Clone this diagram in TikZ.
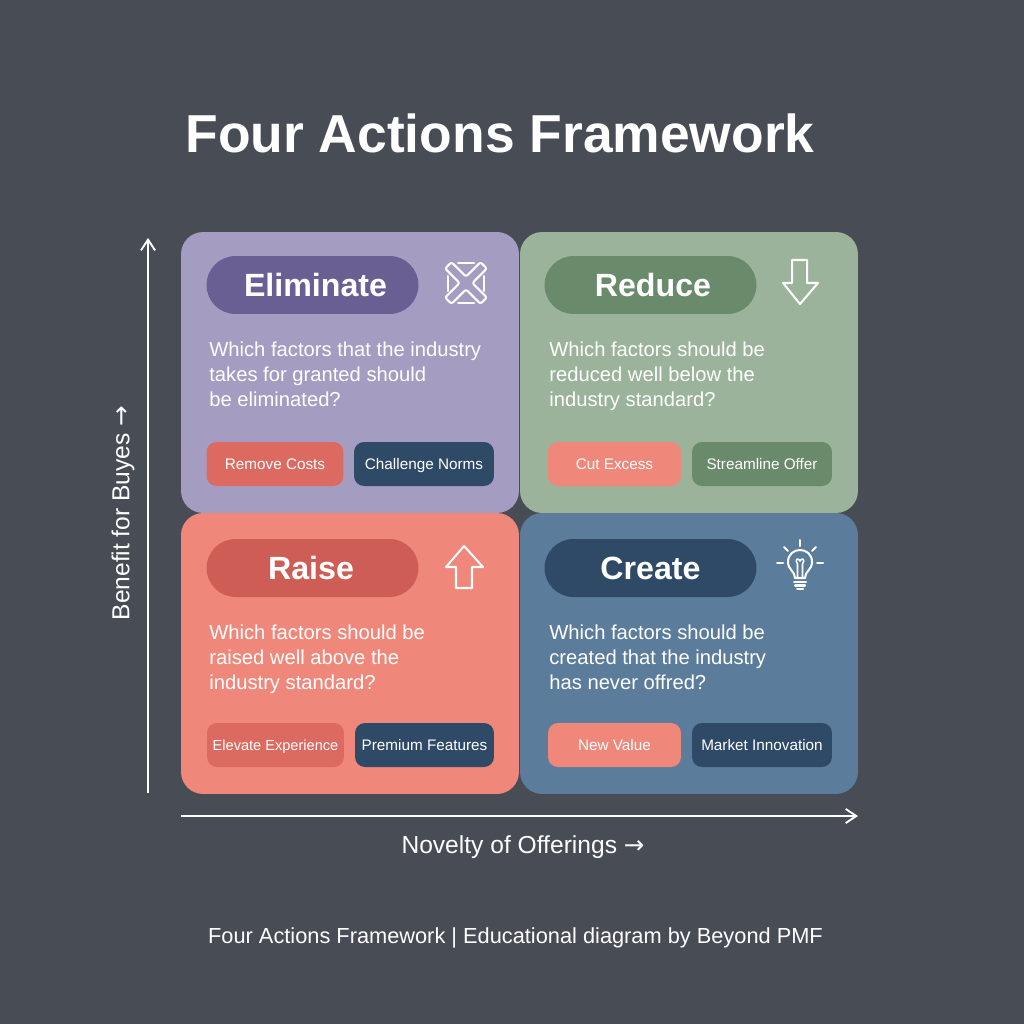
\documentclass[tikz,border=0pt]{standalone}
\usepackage{fontspec}
\setmainfont{Liberation Sans}
\newfontfamily\arrowfont{DejaVu Sans}
\usetikzlibrary{arrows.meta}
\definecolor{bgcol}{HTML}{474C55}
\definecolor{lavcol}{HTML}{A49DC1}
\definecolor{grncol}{HTML}{9BB39B}
\definecolor{salcol}{HTML}{EF887B}
\definecolor{blucol}{HTML}{5C7C9C}
\definecolor{purdark}{HTML}{6A5F93}
\definecolor{grndark}{HTML}{6A8A6C}
\definecolor{reddark}{HTML}{CE5E55}
\definecolor{navy}{HTML}{2F4A66}
\definecolor{redtag}{HTML}{DD6A60}
\tikzset{
    panel/.style={fill=#1, rounded corners=0.44cm, minimum width=6.76cm, minimum height=5.62cm, inner sep=0pt},
    pill/.style={fill=#1, rounded corners=0.58cm, minimum width=4.24cm, minimum height=1.16cm, inner sep=0pt, text=white, font=\fontsize{18.3}{20}\selectfont\bfseries},
    tag/.style={fill=#1, rounded corners=0.2cm, minimum width=2.74cm, minimum height=0.88cm, inner sep=0pt, text=white, text height=7.2pt, text depth=1.1pt, font=\fontsize{8.7}{10}\selectfont},
    question/.style={anchor=north west, inner sep=0pt, align=left, text=white, font=\fontsize{11.5}{14.2}\selectfont},
    caption/.style={text=white, inner sep=0pt, font=\fontsize{14}{16}\selectfont},
    icon/.style={draw=white, line width=1.15pt, line join=round, line cap=round},
    axis/.style={draw=white, line width=1.1pt, -{Straight Barb[length=6pt,width=8pt]}}
}
\begin{document}
\begin{tikzpicture}[x=0.02cm,y=-0.02cm]
    \useasboundingbox (0,0) rectangle (1024,1024);
    \fill[bgcol] (0,0) rectangle (1024,1024);
    % Titel
    \node[text=white, inner sep=0pt, font=\fontsize{30.4}{34}\selectfont\bfseries] (title) at (500,133) {Four Actions Framework};
    % Felder
    \node[panel=lavcol] (eliminate) at (350,372.5) {};
    \node[panel=grncol] (reduce) at (689,372.5) {};
    \node[panel=salcol] (raise) at (350,653.5) {};
    \node[panel=blucol] (create) at (689,653.5) {};
    % Eliminate
    \node[pill=purdark] (elimpill) at (312.5,285) {\kern3.4pt Eliminate};
    \node[question] (elimtext) at (209,341.5) {Which factors that the industry\\takes for granted should\\be eliminated?};
    \node[tag=redtag] (elimtaga) at (275,464) {Remove Costs};
    \node[tag=navy, minimum width=2.8cm] (elimtagb) at (424,464) {Challenge Norms};
    % Reduce
    \node[pill=grndark] (redpill) at (650.5,285) {\kern2.8pt Reduce};
    \node[question] (redtext) at (549,341.5) {Which factors should be\\reduced well below the\\industry standard?};
    \node[tag=salcol, minimum width=2.66cm] (redtaga) at (614.5,464) {Cut Excess};
    \node[tag=grndark, minimum width=2.8cm] (redtagb) at (762,464) {Streamline Offer};
    % Raise
    \node[pill=reddark] (raisepill) at (312.5,568) {Raise\kern1.7pt};
    \node[question] (raisetext) at (209,624.5) {Which factors should be\\raised well above the\\industry standard?};
    \node[tag=redtag, font=\fontsize{8.3}{10}\selectfont] (raisetaga) at (275.5,745) {Elevate Experience};
    \node[tag=navy, minimum width=2.78cm] (raisetagb) at (424.5,745) {Premium Features};
    % Create
    \node[pill=navy] (createpill) at (650.5,568) {Create};
    \node[question] (createtext) at (549,624.5) {Which factors should be\\created that the industry\\has never offred?};
    \node[tag=salcol, minimum width=2.66cm] (createtaga) at (614.5,745) {New Value};
    \node[tag=navy, minimum width=2.8cm] (createtagb) at (762,745) {Market Innovation};
    % Symbole
    \begin{scope}[shift={(466,283)}, rotate=45]
        \draw[icon, rounded corners=1.2pt] (-4.5,-4.5) -- (-4.5,-25) -- (4.5,-25) -- (4.5,-4.5) -- (25,-4.5) -- (25,4.5) -- (4.5,4.5) -- (4.5,25) -- (-4.5,25) -- (-4.5,4.5) -- (-25,4.5) -- (-25,-4.5) -- cycle;
    \end{scope}
    \draw[icon] (458,263) -- (474,263);
    \draw[icon] (458,303) -- (474,303);
    \draw[icon] (448,276) -- (448,291);
    \draw[icon] (484,276) -- (484,291);
    \draw[icon] (792,260) -- (807,260) -- (807,283) -- (818,283) -- (800,304) -- (783,283) -- (792,283) -- cycle;
    \draw[icon] (456,588) -- (472,588) -- (472,567) -- (483,567) -- (464,546) -- (446,567) -- (456,567) -- cycle;
    \draw[icon] (800,540) -- (800,546);
    \draw[icon] (784,547) -- (788,551);
    \draw[icon] (816,547) -- (812,551);
    \draw[icon] (777,563) -- (783,563);
    \draw[icon] (817,563) -- (823,563);
    \draw[icon] (795,578) .. controls (795,571) and (788,570) .. (788,562) .. controls (788,546) and (812,546) .. (812,562) .. controls (812,570) and (805,571) .. (805,578) -- cycle;
    \draw[icon, line width=0.9pt] (797.5,577) -- (797.5,564) .. controls (794,558) and (799,558) .. (800,561) .. controls (801,558) and (806,558) .. (802.5,564) -- (802.5,577);
    \draw[icon] (794,582) -- (806,582);
    \draw[icon] (795,585.5) -- (805,585.5);
    \draw[icon] (797,589) -- (803,589);
    % Achsen
    \coordinate (ybottom) at (148,793);
    \coordinate (ytop) at (148,238);
    \coordinate (xleft) at (181,816);
    \coordinate (xright) at (858,816);
    \draw[axis] (ybottom) -- (ytop);
    \draw[axis] (xleft) -- (xright);
    \node[caption, rotate=90] (ylabel) at (123,513) {Benefit for Buyes {\arrowfont →}};
    \node[caption] (xlabel) at (523,847) {Novelty of Offerings {\arrowfont →}};
    % Fusszeile
    \node[caption, font=\fontsize{12.4}{14}\selectfont] (footer) at (515.5,938) {Four Actions Framework | Educational diagram by Beyond PMF};
\end{tikzpicture}
\end{document}
